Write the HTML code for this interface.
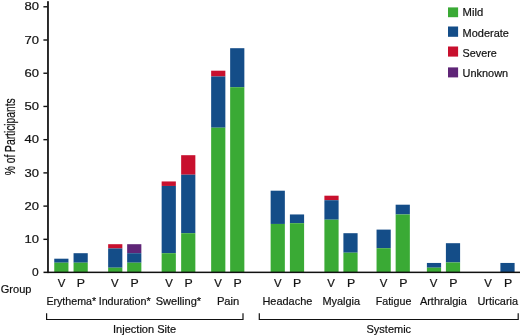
<!DOCTYPE html>
<html><head><meta charset="utf-8"><style>
html,body{margin:0;padding:0;background:#fff;}
text{stroke:#111;stroke-width:0.2px;}svg{display:block;will-change:transform;font-family:"Liberation Sans",sans-serif;fill:#111;}
</style></head><body>
<svg width="520" height="336" viewBox="0 0 520 336">
<rect width="520" height="336" fill="#fff"/>
<rect x="54.25" y="258.70" width="14.2" height="4.00" fill="#144d88"/>
<rect x="54.25" y="262.70" width="14.2" height="9.40" fill="#3aaa35"/>
<rect x="73.55" y="253.20" width="14.2" height="9.50" fill="#144d88"/>
<rect x="73.55" y="262.70" width="14.2" height="9.40" fill="#3aaa35"/>
<rect x="108.15" y="244.20" width="14.2" height="4.25" fill="#c8102e"/>
<rect x="108.15" y="248.45" width="14.2" height="19.25" fill="#144d88"/>
<rect x="108.15" y="267.70" width="14.2" height="4.40" fill="#3aaa35"/>
<rect x="127.15" y="244.20" width="14.2" height="9.00" fill="#5f2577"/>
<rect x="127.15" y="253.20" width="14.2" height="9.50" fill="#144d88"/>
<rect x="127.15" y="262.70" width="14.2" height="9.40" fill="#3aaa35"/>
<rect x="161.65" y="181.45" width="14.2" height="4.50" fill="#c8102e"/>
<rect x="161.65" y="185.95" width="14.2" height="67.25" fill="#144d88"/>
<rect x="161.65" y="253.20" width="14.2" height="18.90" fill="#3aaa35"/>
<rect x="181.15" y="155.20" width="14.2" height="19.50" fill="#c8102e"/>
<rect x="181.15" y="174.70" width="14.2" height="58.50" fill="#144d88"/>
<rect x="181.15" y="233.20" width="14.2" height="38.90" fill="#3aaa35"/>
<rect x="211.15" y="70.70" width="14.2" height="5.75" fill="#c8102e"/>
<rect x="211.15" y="76.45" width="14.2" height="51.25" fill="#144d88"/>
<rect x="211.15" y="127.70" width="14.2" height="144.40" fill="#3aaa35"/>
<rect x="230.15" y="48.20" width="14.2" height="39.00" fill="#144d88"/>
<rect x="230.15" y="87.20" width="14.2" height="184.90" fill="#3aaa35"/>
<rect x="270.65" y="190.70" width="14.2" height="33.25" fill="#144d88"/>
<rect x="270.65" y="223.95" width="14.2" height="48.15" fill="#3aaa35"/>
<rect x="289.90" y="214.45" width="14.2" height="8.75" fill="#144d88"/>
<rect x="289.90" y="223.20" width="14.2" height="48.90" fill="#3aaa35"/>
<rect x="324.40" y="195.70" width="14.2" height="4.50" fill="#c8102e"/>
<rect x="324.40" y="200.20" width="14.2" height="19.50" fill="#144d88"/>
<rect x="324.40" y="219.70" width="14.2" height="52.40" fill="#3aaa35"/>
<rect x="343.40" y="233.20" width="14.2" height="19.50" fill="#144d88"/>
<rect x="343.40" y="252.70" width="14.2" height="19.40" fill="#3aaa35"/>
<rect x="376.55" y="229.60" width="14.2" height="18.60" fill="#144d88"/>
<rect x="376.55" y="248.20" width="14.2" height="23.90" fill="#3aaa35"/>
<rect x="395.65" y="204.70" width="14.2" height="9.75" fill="#144d88"/>
<rect x="395.65" y="214.45" width="14.2" height="57.65" fill="#3aaa35"/>
<rect x="426.90" y="262.95" width="14.2" height="4.75" fill="#144d88"/>
<rect x="426.90" y="267.70" width="14.2" height="4.40" fill="#3aaa35"/>
<rect x="445.90" y="243.20" width="14.2" height="19.25" fill="#144d88"/>
<rect x="445.90" y="262.45" width="14.2" height="9.65" fill="#3aaa35"/>
<rect x="500.40" y="262.95" width="14.2" height="9.15" fill="#144d88"/>
<rect x="47.1" y="1.2" width="1.75" height="271.9" fill="#111"/>
<rect x="43.5" y="271.6" width="476.5" height="1.5" fill="#111"/>
<rect x="43.4" y="238.63" width="4" height="1.4" fill="#111"/>
<rect x="43.4" y="205.41" width="4" height="1.4" fill="#111"/>
<rect x="43.4" y="172.19" width="4" height="1.4" fill="#111"/>
<rect x="43.4" y="138.97" width="4" height="1.4" fill="#111"/>
<rect x="43.4" y="105.75" width="4" height="1.4" fill="#111"/>
<rect x="43.4" y="72.53" width="4" height="1.4" fill="#111"/>
<rect x="43.4" y="39.31" width="4" height="1.4" fill="#111"/>
<rect x="43.4" y="6.09" width="4" height="1.4" fill="#111"/>
<text x="31.9" y="276.20000000000005" font-size="11.2" textLength="6.7" lengthAdjust="spacingAndGlyphs" >0</text>
<text x="24.4" y="242.98000000000002" font-size="11.2" textLength="14.5" lengthAdjust="spacingAndGlyphs" >10</text>
<text x="24.4" y="209.76000000000002" font-size="11.2" textLength="14.5" lengthAdjust="spacingAndGlyphs" >20</text>
<text x="24.4" y="176.54000000000002" font-size="11.2" textLength="14.5" lengthAdjust="spacingAndGlyphs" >30</text>
<text x="24.4" y="143.32000000000002" font-size="11.2" textLength="14.5" lengthAdjust="spacingAndGlyphs" >40</text>
<text x="24.4" y="110.10000000000002" font-size="11.2" textLength="14.5" lengthAdjust="spacingAndGlyphs" >50</text>
<text x="24.4" y="76.88000000000002" font-size="11.2" textLength="14.5" lengthAdjust="spacingAndGlyphs" >60</text>
<text x="24.4" y="43.66000000000003" font-size="11.2" textLength="14.5" lengthAdjust="spacingAndGlyphs" >70</text>
<text x="24.4" y="10.440000000000031" font-size="11.2" textLength="14.5" lengthAdjust="spacingAndGlyphs" >80</text>
<text x="57.8" y="287.4" font-size="11.2" textLength="7.6" lengthAdjust="spacingAndGlyphs" >V</text>
<text x="76.8" y="287.4" font-size="11.2" textLength="8.2" lengthAdjust="spacingAndGlyphs" >P</text>
<text x="111.05" y="287.4" font-size="11.2" textLength="7.6" lengthAdjust="spacingAndGlyphs" >V</text>
<text x="130.55" y="287.4" font-size="11.2" textLength="8.2" lengthAdjust="spacingAndGlyphs" >P</text>
<text x="165.3" y="287.4" font-size="11.2" textLength="7.6" lengthAdjust="spacingAndGlyphs" >V</text>
<text x="184.55" y="287.4" font-size="11.2" textLength="8.2" lengthAdjust="spacingAndGlyphs" >P</text>
<text x="214.3" y="287.4" font-size="11.2" textLength="7.6" lengthAdjust="spacingAndGlyphs" >V</text>
<text x="233.55" y="287.4" font-size="11.2" textLength="8.2" lengthAdjust="spacingAndGlyphs" >P</text>
<text x="274.05" y="287.4" font-size="11.2" textLength="7.6" lengthAdjust="spacingAndGlyphs" >V</text>
<text x="293.05" y="287.4" font-size="11.2" textLength="8.2" lengthAdjust="spacingAndGlyphs" >P</text>
<text x="327.3" y="287.4" font-size="11.2" textLength="7.6" lengthAdjust="spacingAndGlyphs" >V</text>
<text x="347.05" y="287.4" font-size="11.2" textLength="8.2" lengthAdjust="spacingAndGlyphs" >P</text>
<text x="379.8" y="287.4" font-size="11.2" textLength="7.6" lengthAdjust="spacingAndGlyphs" >V</text>
<text x="399.3" y="287.4" font-size="11.2" textLength="8.2" lengthAdjust="spacingAndGlyphs" >P</text>
<text x="429.8" y="287.4" font-size="11.2" textLength="7.6" lengthAdjust="spacingAndGlyphs" >V</text>
<text x="449.3" y="287.4" font-size="11.2" textLength="8.2" lengthAdjust="spacingAndGlyphs" >P</text>
<text x="484.3" y="287.4" font-size="11.2" textLength="7.6" lengthAdjust="spacingAndGlyphs" >V</text>
<text x="504.05" y="287.4" font-size="11.2" textLength="8.2" lengthAdjust="spacingAndGlyphs" >P</text>
<text x="0.8" y="292.8" font-size="11.2" textLength="30.6" lengthAdjust="spacingAndGlyphs" >Group</text>
<text x="46.4" y="305.2" font-size="11.2" textLength="49.75" lengthAdjust="spacingAndGlyphs" >Erythema*</text>
<text x="98.65" y="305.2" font-size="11.2" textLength="52.0" lengthAdjust="spacingAndGlyphs" >Induration*</text>
<text x="155.65" y="305.2" font-size="11.2" textLength="45.5" lengthAdjust="spacingAndGlyphs" >Swelling*</text>
<text x="216.9" y="305.2" font-size="11.2" textLength="22.45" lengthAdjust="spacingAndGlyphs" >Pain</text>
<text x="262.4" y="305.2" font-size="11.2" textLength="49.95" lengthAdjust="spacingAndGlyphs" >Headache</text>
<text x="322.4" y="305.2" font-size="11.2" textLength="37.7" lengthAdjust="spacingAndGlyphs" >Myalgia</text>
<text x="375.65" y="305.2" font-size="11.2" textLength="35.7" lengthAdjust="spacingAndGlyphs" >Fatigue</text>
<text x="419.9" y="305.2" font-size="11.2" textLength="46.95" lengthAdjust="spacingAndGlyphs" >Arthralgia</text>
<text x="477.4" y="305.2" font-size="11.2" textLength="40.7" lengthAdjust="spacingAndGlyphs" >Urticaria</text>
<text x="113.0" y="333.3" font-size="11.2" textLength="63.2" lengthAdjust="spacingAndGlyphs" >Injection Site</text>
<text x="366.5" y="333.3" font-size="11.2" textLength="44.6" lengthAdjust="spacingAndGlyphs" >Systemic</text>
<rect x="448" y="7.4" width="10.1" height="9.80" fill="#3aaa35"/>
<text x="462.6" y="15.9" font-size="11.2" textLength="20.6" lengthAdjust="spacingAndGlyphs" >Mild</text>
<rect x="448" y="26.5" width="10.1" height="10.30" fill="#144d88"/>
<text x="462.6" y="37.1" font-size="11.2" textLength="46.3" lengthAdjust="spacingAndGlyphs" >Moderate</text>
<rect x="448" y="46.5" width="10.1" height="10.10" fill="#c8102e"/>
<text x="462.6" y="56.9" font-size="11.2" textLength="34.2" lengthAdjust="spacingAndGlyphs" >Severe</text>
<rect x="448" y="67.4" width="10.1" height="10.00" fill="#5f2577"/>
<text x="462.6" y="76.5" font-size="11.2" textLength="45.5" lengthAdjust="spacingAndGlyphs" >Unknown</text>
<text transform="translate(15.4,175.3) rotate(-90)" font-size="14.2" textLength="77" lengthAdjust="spacingAndGlyphs" stroke="#111" stroke-width="0.3">% of Participants</text>
<path d="M46.6 313.3 V319.5 H243 V313.3" fill="none" stroke="#111" stroke-width="1.2"/>
<path d="M259.3 313.3 V319.5 H518.2 V313.3" fill="none" stroke="#111" stroke-width="1.2"/>
</svg>
</body></html>
